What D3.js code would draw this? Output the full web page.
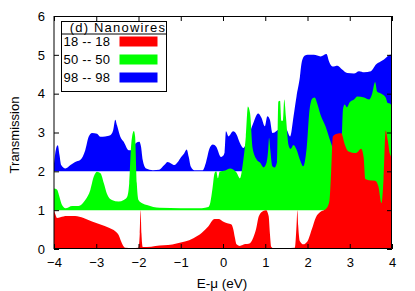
<!DOCTYPE html>
<html>
<head>
<meta charset="utf-8">
<script src="https://cdn.jsdelivr.net/npm/d3@7"></script>
<style>
  body { margin: 0; background: #fff; }
  text { font-family: "Liberation Sans", Arial, sans-serif; fill: #000; }
</style>
</head>
<body>
<div class="chart"></div>
<script>
// series: energy (eV) and plotted transmission (already shifted by offset)
const redE = [-4.0,-3.97,-3.93,-3.85,-3.7,-3.5,-3.3,-3.1,-2.9,-2.7,-2.55,-2.47,-2.42,-2.36,-2.3,-2.15,-2.0,-1.97,-1.95,-1.93,-1.9,-1.7,-1.5,-1.3,-1.1,-0.9,-0.7,-0.5,-0.35,-0.2,-0.1,0.0,0.1,0.2,0.24,0.28,0.32,0.4,0.5,0.64,0.72,0.78,0.85,0.95,1.02,1.08,1.11,1.14,1.2,1.5,1.7,1.74,1.76,1.78,1.82,1.9,2.0,2.1,2.2,2.3,2.45,2.52,2.56,2.6,2.7,2.8,2.88,2.96,3.15,3.27,3.33,3.37,3.45,3.6,3.68,3.75,3.8,3.85,3.9,3.95,4.0];
const redT = [1.0,0.9,0.8,0.82,0.85,0.85,0.8,0.71,0.63,0.55,0.46,0.36,0.22,0.08,0.03,0.02,0.03,0.4,1.0,0.4,0.05,0.06,0.09,0.1,0.14,0.19,0.28,0.42,0.58,0.77,0.77,0.71,0.66,0.63,0.52,0.3,0.12,0.08,0.12,0.15,0.3,0.5,0.85,0.98,1.0,0.85,0.4,0.06,0.02,0.02,0.03,0.6,1.0,0.6,0.2,0.12,0.2,0.5,0.82,0.95,1.05,1.25,2.0,2.9,2.97,2.98,2.7,2.52,2.47,2.58,2.35,1.8,1.77,1.76,1.6,1.18,1.8,3.05,2.8,2.45,2.35];

const greenE = [-4.0,-3.93,-3.87,-3.81,-3.73,-3.57,-3.42,-3.26,-3.14,-3.06,-2.98,-2.9,-2.82,-2.75,-2.63,-2.47,-2.35,-2.27,-2.22,-2.17,-2.11,-2.08,-2.04,-2.0,-1.9,-1.8,-1.65,-1.5,-1.0,-0.5,-0.35,-0.3,-0.25,-0.2,-0.16,-0.12,-0.08,0.05,0.17,0.24,0.32,0.4,0.47,0.54,0.59,0.64,0.7,0.8,0.88,0.96,1.03,1.07,1.09,1.12,1.17,1.22,1.28,1.31,1.35,1.38,1.42,1.45,1.49,1.55,1.6,1.67,1.74,1.82,1.9,1.98,2.05,2.12,2.17,2.23,2.31,2.43,2.55,2.65,2.75,2.81,2.84,2.88,2.93,3.0,3.1,3.18,3.34,3.46,3.53,3.6,3.65,3.75,3.85,3.9,3.95,3.98,4.0];
const greenT = [1.56,1.53,1.34,1.13,1.05,1.11,1.11,1.26,1.52,1.86,1.99,1.95,1.69,1.43,1.26,1.22,1.26,1.34,1.69,2.72,3.04,2.89,1.69,1.26,1.17,1.13,1.08,1.06,1.05,1.05,1.08,1.2,1.55,1.95,2.0,1.82,1.99,2.02,2.07,2.05,1.97,1.82,2.2,2.9,3.67,3.5,2.6,2.3,2.22,2.1,2.22,2.56,2.86,2.55,2.13,2.1,2.25,3.8,3.82,3.3,3.3,3.85,3.4,2.68,2.58,2.68,2.56,2.3,2.13,2.6,3.6,3.88,3.9,3.75,3.45,3.15,2.75,2.5,2.6,2.8,3.6,3.72,3.65,3.78,3.85,3.93,3.9,3.85,4.0,4.3,4.05,4.0,3.9,3.76,3.75,3.7,2.3];

const blueE = [-4.0,-3.95,-3.91,-3.87,-3.83,-3.73,-3.61,-3.5,-3.38,-3.26,-3.18,-3.1,-2.98,-2.9,-2.79,-2.67,-2.6,-2.55,-2.51,-2.43,-2.35,-2.23,-2.15,-2.06,-1.98,-1.94,-1.9,-1.82,-1.66,-1.51,-1.39,-1.31,-1.23,-1.15,-1.07,-0.99,-0.92,-0.86,-0.81,-0.76,-0.68,-0.48,-0.4,-0.32,-0.24,-0.16,-0.05,0.0,0.04,0.07,0.13,0.24,0.32,0.4,0.48,0.6,0.72,0.83,0.91,0.99,1.05,1.11,1.17,1.22,1.28,1.4,1.5,1.59,1.67,1.74,1.82,1.86,1.94,2.0,2.15,2.31,2.45,2.51,2.59,2.71,2.82,2.94,3.1,3.22,3.34,3.5,3.62,3.73,3.81,3.89,3.95,4.0];
const blueT = [2.2,2.59,2.67,2.42,2.16,2.07,2.16,2.24,2.29,2.54,2.89,2.99,2.97,2.89,2.9,2.93,3.06,3.33,3.19,2.89,2.76,2.54,2.55,2.73,2.76,2.63,2.29,2.07,2.03,2.04,2.16,2.24,2.2,2.16,2.24,2.37,2.46,2.56,2.37,2.12,2.03,2.03,2.24,2.59,2.69,2.63,2.37,2.4,2.5,3.03,2.9,3.03,2.95,2.73,2.6,2.9,3.25,3.49,3.38,3.16,3.42,3.33,2.99,3.0,3.05,3.1,3.08,2.9,3.42,3.93,4.43,4.79,4.98,5.0,5.0,4.96,5.02,4.83,4.7,4.72,4.62,4.53,4.52,4.58,4.55,4.58,4.75,4.83,4.88,4.96,5.0,5.0];

const seriesNames = ["18 -- 18", "50 -- 50", "98 -- 98"];
const seriesOffsets = [0, 1, 2];
const seriesColors = ["#ff0000", "#00ff00", "#0000ff"];
const legendTitle = "(d) Nanowires";
const xTicks = [-4, -3, -2, -1, 0, 1, 2, 3, 4];
const yTicks = [0, 1, 2, 3, 4, 5, 6];

const width = 338;
const height = 233;

const svg = d3.select(".chart")
  .append("svg")
    .attr("width", 415)
    .attr("height", 291);

svg.append("defs").append("clipPath")
    .attr("id", "plot-clip")
  .append("rect")
    .attr("width", width)
    .attr("height", height);

const chart = svg.append("g")
  .attr("transform", "translate(54, 16)");

const xScale = d3.scaleLinear().domain([-4, 4]).range([0, width]);
const yScale = d3.scaleLinear().domain([0, 6]).range([height, 0]);

//build point lists
const series = [
  { e: redE, t: redT },
  { e: greenE, t: greenT },
  { e: blueE, t: blueT }
].map((s, i) => ({
  name: seriesNames[i],
  offset: seriesOffsets[i],
  color: seriesColors[i],
  values: s.e.map((e, j) => ({ e: e, t: s.t[j] }))
}));

//filled curves, blue first so red ends on top
const plot = chart.append("g").attr("clip-path", "url(#plot-clip)");
series.slice().reverse().forEach(s => {
  const area = d3.area()
    .curve(d3.curveMonotoneX)
    .x(d => xScale(d.e))
    .y0(yScale(s.offset))
    .y1(d => yScale(d.t));
  plot.append("path")
    .attr("d", area(s.values))
    .style("fill", s.color)
    .style("stroke", "none");
});

//axes: ticks inward and mirrored
const tickLen = 5;
const xAxisB = d3.axisBottom(xScale).tickValues(xTicks).tickSize(-tickLen).tickPadding(9).tickFormat(d3.format("d"));
const xAxisT = d3.axisTop(xScale).tickValues(xTicks).tickSize(-tickLen).tickFormat("");
const yAxisL = d3.axisLeft(yScale).tickValues(yTicks).tickSize(-tickLen).tickPadding(9).tickFormat(d3.format("d"));
const yAxisR = d3.axisRight(yScale).tickValues(yTicks).tickSize(-tickLen).tickFormat("");

const gxB = chart.append("g").attr("transform", `translate(0,${height})`).call(xAxisB);
const gxT = chart.append("g").call(xAxisT);
const gyL = chart.append("g").call(yAxisL);
const gyR = chart.append("g").attr("transform", `translate(${width},0)`).call(yAxisR);
[gxB, gxT, gyL, gyR].forEach(g => {
  g.select(".domain").remove();
  g.selectAll(".tick line").style("stroke", "#000");
  g.selectAll(".tick text")
    .style("font-family", "'Liberation Sans', Arial, sans-serif")
    .style("font-size", "13px")
    .style("fill", "#000");
});

//frame (left edge sits on a whole pixel, so it comes out grey and soft like the original)
chart.append("path")
  .attr("d", `M0,0V${height}`)
  .style("stroke", "#000")
  .style("stroke-width", 1);
chart.append("path")
  .attr("d", `M0,0.5H${width - 0.5}V${height - 0.5}H0`)
  .style("fill", "none")
  .style("stroke", "#000")
  .style("stroke-width", 1);

//axis labels
svg.append("text")
  .attr("x", 222)
  .attr("y", 288)
  .attr("text-anchor", "middle")
  .style("font-size", "13.5px")
  .text("E-μ (eV)");
svg.append("text")
  .attr("transform", "translate(18.5,135) rotate(-90)")
  .attr("text-anchor", "middle")
  .style("font-size", "13px")
  .text("Transmission");

//legend
const legend = svg.append("g").attr("transform", "translate(61.5, 21.5)");
legend.append("rect")
  .attr("width", 105)
  .attr("height", 70)
  .style("fill", "#fff")
  .style("stroke", "#000");
legend.append("line")
  .attr("x1", 0).attr("x2", 105)
  .attr("y1", 12.5).attr("y2", 12.5)
  .style("stroke", "#000");
legend.append("text")
  .attr("x", 56.5)
  .attr("y", 10)
  .attr("text-anchor", "middle")
  .style("font-size", "13px")
  .style("letter-spacing", "1.2px")
  .text(legendTitle);
const rows = legend.selectAll(".legend-row")
  .data(series)
  .enter().append("g")
  .attr("class", "legend-row")
  .attr("transform", (d, i) => `translate(0, ${20 + i * 18})`);
rows.append("text")
  .attr("x", 2)
  .attr("y", 4.5)
  .style("font-size", "13px")
  .style("letter-spacing", "0.25px")
  .text(d => d.name);
rows.append("rect")
  .attr("x", 58)
  .attr("y", -5)
  .attr("width", 38)
  .attr("height", 10)
  .style("fill", d => d.color);
</script>
</body>
</html>
